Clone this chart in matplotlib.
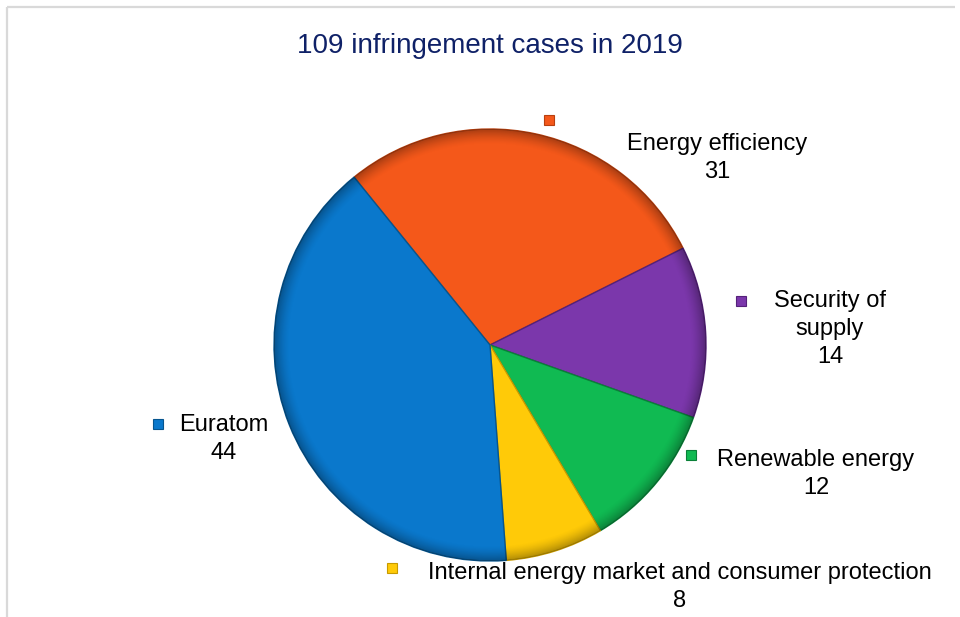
import numpy as np
import matplotlib
matplotlib.use("Agg")
import matplotlib.pyplot as plt
from matplotlib.patches import Rectangle, Circle

plt.rcParams['font.family'] = ['Liberation Sans', 'DejaVu Sans']

categories = ["Energy efficiency", "Security of supply", "Renewable energy",
              "Internal energy market and consumer protection", "Euratom"]
values = [31, 14, 12, 8, 44]
label_lines = [["Energy efficiency"], ["Security of", "supply"], ["Renewable energy"],
               ["Internal energy market and consumer protection"], ["Euratom"]]
colors = ["#F4581A", "#7B37AB", "#10BA52", "#FFCA08", "#0A78CC"]
edge_colors = ["#B8400F", "#55217A", "#0A8038", "#C79A00", "#06558F"]
title = "109 infringement cases in 2019"

W, H = 960, 617
fig = plt.figure(figsize=(W / 100, H / 100), dpi=100)

# pie axes (pixel-based placement)
cx, cy, R = 490, 345, 216
ax = fig.add_axes([(cx - R) / W, (H - cy - R) / H, 2 * R / W, 2 * R / H])

wedges, _ = ax.pie(values, colors=colors, startangle=129, counterclock=False,
                   radius=1.0, wedgeprops=dict(linewidth=1.0))
for w, ec in zip(wedges, edge_colors):
    w.set_edgecolor(ec)
ax.set_xlim(-1, 1)
ax.set_ylim(-1, 1)
ax.set_aspect('equal')
ax.axis('off')

# bevel-like rim shading
n = 400
xs = np.linspace(-1, 1, n)
X, Y = np.meshgrid(xs, xs)
r = np.sqrt(X ** 2 + Y ** 2)
alpha = np.clip((r - 0.93) / 0.07, 0, 1) ** 1.5 * 0.30
img = np.zeros((n, n, 4))
img[..., 3] = alpha
im = ax.imshow(img, extent=(-1, 1, -1, 1), origin='lower', zorder=5, interpolation='bilinear')
clip = Circle((0, 0), 1.0, transform=ax.transData)
im.set_clip_path(clip)
ax.set_xlim(-1, 1)
ax.set_ylim(-1, 1)

# overlay axes in pixel coordinates for labels / frame
ov = fig.add_axes([0, 0, 1, 1], zorder=10)
ov.set_xlim(0, W)
ov.set_ylim(H, 0)
ov.axis('off')
ov.patch.set_alpha(0)

# frame
ov.plot([7, 955], [7, 7], color="#D9D9D9", lw=1.6, solid_capstyle='butt')
ov.plot([7, 7], [7, H], color="#D9D9D9", lw=1.6, solid_capstyle='butt')

ov.text(490, 46, title, ha='center', va='center', fontsize=20, color="#0F2167")

# label layout: (text center x, first line y, marker x, marker y)
layout = [
    (717, 144, 549, 120),
    (830, 301, 741, 301),
    (816, 460, 691, 455),
    (680, 573, 392, 568),
    (224, 425, 158, 424),
]
lh = 28
for lines, v, c, ec, (tx, ty, mx, my) in zip(label_lines, values, colors, edge_colors, layout):
    for i, line in enumerate(lines + [str(v)]):
        ov.text(tx, ty + i * lh, line, ha='center', va='center', fontsize=17, color="black")
    ov.add_patch(Rectangle((mx - 5, my - 5), 10, 10, facecolor=c, edgecolor=ec, lw=0.8))

fig.savefig("out.png", dpi=100)
